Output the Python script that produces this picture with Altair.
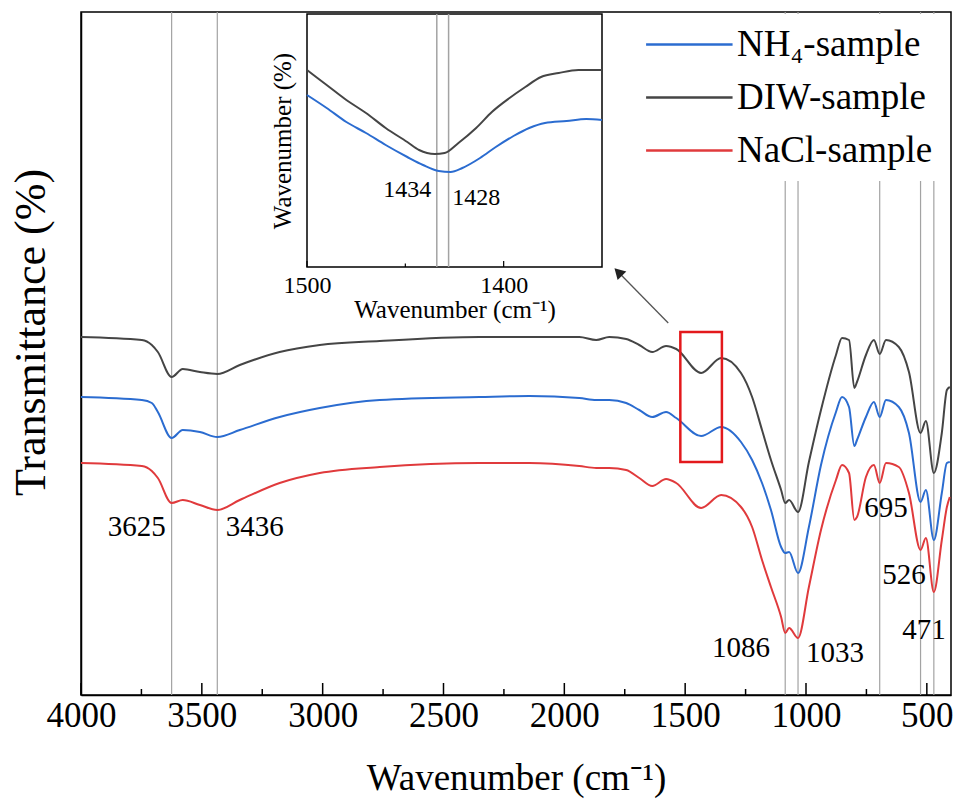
import altair as alt
import pandas as pd

FONT = "Liberation Serif"

# ---------------- main spectra (wavenumber, transmittance in arbitrary offset units)
wavenumber = [4000, 3748, 3707, 3682, 3625, 3579, 3508, 3436, 3343, 3178, 3012, 2764,
              2351, 2145, 1938, 1868, 1814, 1744, 1690, 1636, 1579, 1537,
              1434, 1351, 1269, 1223, 1182, 1145, 1103, 1086, 1070, 1033,
              988, 938, 876, 851, 822, 800, 789, 752, 719, 695,
              669, 616, 574, 526, 504, 471, 438, 417, 405]
diw = [35.8, 35.5, 35.0, 34.3, 31.8, 32.6, 32.3, 32.1, 33.0, 34.3, 35.0, 35.4,
       35.8, 35.8, 35.8, 35.5, 35.8, 35.6, 35.0, 34.3, 34.9, 34.6,
       32.2, 33.7, 32.2, 29.8, 26.5, 23.5, 20.5, 19.2, 19.5, 18.3,
       23.3, 28.5, 34.0, 35.7, 35.5, 30.7, 31.3, 34.0, 35.5, 34.1,
       35.5, 34.8, 32.3, 26.2, 27.4, 22.2, 26.2, 30.5, 30.8]
nh4 = [29.8, 29.5, 29.2, 28.3, 25.7, 26.5, 26.3, 25.8, 26.5, 27.8, 28.7, 29.5,
       29.8, 29.9, 29.7, 29.5, 29.5, 29.2, 28.5, 27.8, 28.3, 27.7,
       25.9, 26.8, 25.3, 23.5, 21.2, 18.5, 14.8, 14.2, 14.3, 12.2,
       16.8, 23.0, 28.3, 29.8, 28.8, 24.9, 25.5, 27.8, 29.3, 27.8,
       29.5, 28.8, 26.2, 19.3, 20.5, 15.5, 20.2, 23.2, 23.3]
nacl = [23.2, 22.9, 22.4, 21.7, 19.2, 19.5, 19.0, 18.5, 19.5, 21.2, 22.2, 22.8,
        23.2, 23.2, 22.9, 22.7, 22.7, 22.5, 21.7, 20.9, 21.6, 21.2,
        18.7, 20.0, 18.8, 16.8, 13.5, 10.8, 7.8, 6.2, 6.7, 5.7,
        10.8, 16.5, 21.5, 23.0, 22.2, 17.5, 17.8, 21.8, 23.0, 21.2,
        23.2, 22.8, 20.2, 14.5, 15.7, 10.3, 15.5, 18.8, 19.8]

series_names = ["NH\u2084-sample", "DIW-sample", "NaCl-sample"]
series_colors = ["#2B6CD0", "#454545", "#E03A3C"]

# peak marker lines and labels
peak_lines = [3625, 3436, 1086, 1033, 695, 526, 471]
peak_text = ["3625", "3436", "1086", "1033", "695", "526", "471"]
peak_text_x = [3769, 3281, 1269, 880, 669, 595, 512]
peak_text_y = [16.8, 16.8, 4.7, 4.2, 18.7, 12.0, 6.5]

major_ticks = [4000, 3500, 3000, 2500, 2000, 1500, 1000, 500]
minor_ticks = [3750, 3250, 2750, 2250, 1750, 1250, 750]
major_tick_len = 1.2   # in y-data units (inward ticks)
minor_tick_len = 0.6

# highlighted region and arrow (main data coordinates)
box_x = [1520]; box_x2 = [1348]; box_y = [23.3]; box_y2 = [36.3]
arrow_tail_x = [1570]; arrow_tail_y = [37.2]
arrow_head_x = [1777]; arrow_head_y = [42.3]

# ---------------- inset (1500-1350 cm-1)
inset_wn_diw = [1500, 1490, 1480, 1470, 1460, 1449, 1443, 1435, 1430, 1423, 1414, 1406,
                1397, 1389, 1381, 1372, 1362, 1350]
inset_diw = [19.7, 18.2, 16.7, 15.4, 13.9, 12.5, 11.7, 11.3, 11.4, 12.4, 13.9, 15.5,
             16.9, 18.0, 19.0, 19.4, 19.7, 19.7]
inset_wn_nh4 = [1500, 1490, 1480, 1470, 1460, 1449, 1441, 1433, 1427, 1421, 1412, 1404,
                1395, 1387, 1379, 1368, 1358, 1350]
inset_nh4 = [17.2, 15.9, 14.5, 13.4, 12.2, 11.0, 10.2, 9.6, 9.5, 9.9, 10.9, 12.0,
             13.1, 13.9, 14.4, 14.6, 14.8, 14.7]
inset_peaks = [1434, 1428]
inset_text = ["1434", "1428"]
inset_text_x = [1449, 1414]
inset_text_y = [7.7, 6.9]
inset_domain_x = [1500, 1350]
inset_domain_y = [0, 25.3]
inset_major_ticks = [1500, 1400]
inset_minor_ticks = [1450]
inset_major_len = 0.6
inset_minor_len = 0.35

# ---------------- data frames
spectra = pd.concat([
    pd.DataFrame({"wn": wavenumber, "T": vals, "sample": name})
    for name, vals in zip(series_names, [nh4, diw, nacl])
])
peaks_df = pd.DataFrame({"wn": peak_lines})
labels_df = pd.DataFrame({"label": peak_text, "x": peak_text_x, "y": peak_text_y})
box_df = pd.DataFrame({"x": box_x, "x2": box_x2, "y": box_y, "y2": box_y2})
arrow_df = pd.DataFrame({"x": arrow_tail_x, "y": arrow_tail_y, "x2": arrow_head_x, "y2": arrow_head_y})
ticks_df = pd.concat([
    pd.DataFrame({"t": major_ticks, "y0": 0.0, "y1": major_tick_len}),
    pd.DataFrame({"t": minor_ticks, "y0": 0.0, "y1": minor_tick_len}),
])

inset_lines_df = pd.concat([
    pd.DataFrame({"wn": inset_wn_diw, "T": inset_diw, "sample": "DIW"}),
    pd.DataFrame({"wn": inset_wn_nh4, "T": inset_nh4, "sample": "NH4"}),
])
inset_peaks_df = pd.DataFrame({"wn": inset_peaks, "y0": inset_domain_y[0], "y1": inset_domain_y[1]})
inset_labels_df = pd.DataFrame({"label": inset_text, "x": inset_text_x, "y": inset_text_y})
inset_frame_df = pd.DataFrame({"x": [inset_domain_x[0]], "x2": [inset_domain_x[1]],
                               "y": [inset_domain_y[0]], "y2": [inset_domain_y[1]]})
inset_ticks_df = pd.concat([
    pd.DataFrame({"t": inset_major_ticks, "y0": 0.0, "y1": inset_major_len}),
    pd.DataFrame({"t": inset_minor_ticks, "y0": 0.0, "y1": inset_minor_len}),
])

# ---------------- main plot
W, H = 870, 683
mx = alt.Scale(domain=[4000, 400], nice=False, zero=False)
my = alt.Scale(domain=[0, 68.3], nice=False, zero=False)

rules = alt.Chart(peaks_df).mark_rule(color="#A3A3A3", strokeWidth=1.2).encode(
    x=alt.X("wn:Q", scale=mx, axis=None)
)

tick_marks = alt.Chart(ticks_df).mark_rule(color="black", strokeWidth=1.5).encode(
    x=alt.X("t:Q", scale=mx, axis=None),
    y=alt.Y("y0:Q", scale=my, axis=None),
    y2="y1:Q",
)

lines = alt.Chart(spectra).mark_line(strokeWidth=2, interpolate="monotone").encode(
    x=alt.X("wn:Q", scale=mx, title="Wavenumber (cm\u207b\u00b9)",
            axis=alt.Axis(orient="bottom", values=major_ticks, format="d", ticks=False,
                          labelFontSize=35, labelPadding=3, labelFlush=False,
                          titleFontSize=37, titlePadding=27, grid=False)),
    y=alt.Y("T:Q", scale=my, title="Transmittance (%)",
            axis=alt.Axis(orient="left", labels=False, ticks=False, grid=False,
                          titleFontSize=44, titlePadding=28, titleY=320)),
    color=alt.Color("sample:N",
                    scale=alt.Scale(domain=series_names, range=series_colors),
                    legend=alt.Legend(title=None, orient="none", legendX=549, legendY=2,
                                      symbolType="M-1,0H5", symbolSize=831,
                                      symbolStrokeWidth=2.5, labelFont=FONT,
                                      labelFontSize=37, labelColor="black",
                                      labelLimit=500, labelOffset=58,
                                      rowPadding=15, padding=12, fillColor="white")),
)

box = alt.Chart(box_df).mark_rect(fill=None, fillOpacity=0, stroke="#E3191C", strokeWidth=2.5).encode(
    x=alt.X("x:Q", scale=mx, axis=None),
    x2="x2:Q",
    y=alt.Y("y:Q", scale=my, axis=None),
    y2="y2:Q",
)

arrow_line = alt.Chart(arrow_df).mark_rule(color="#555555", strokeWidth=1.3).encode(
    x=alt.X("x:Q", scale=mx, axis=None), x2="x2:Q",
    y=alt.Y("y:Q", scale=my, axis=None), y2="y2:Q",
)
arrow_head = alt.Chart(arrow_df).mark_point(shape="triangle-up", angle=315, size=150,
                                            filled=True, color="#222222", opacity=1).encode(
    x=alt.X("x2:Q", scale=mx, axis=None),
    y=alt.Y("y2:Q", scale=my, axis=None),
)

peak_labels = alt.Chart(labels_df).mark_text(font=FONT, fontSize=29, color="black",
                                             align="center", baseline="middle").encode(
    x=alt.X("x:Q", scale=mx, axis=None),
    y=alt.Y("y:Q", scale=my, axis=None),
    text="label:N",
)

main = alt.layer(rules, tick_marks, lines, box, arrow_line,
                 arrow_head, peak_labels).resolve_axis(x="independent", y="independent")

# ---------------- inset
IX0, IX1, IY0, IY1 = 226, 521, 255, 2
ix = alt.Scale(domain=inset_domain_x, range=[IX0, IX1], nice=False, zero=False)
iy = alt.Scale(domain=inset_domain_y, range=[IY0, IY1], nice=False, zero=False)

inset_frame = alt.Chart(inset_frame_df).mark_rect(fill="white", stroke="black", strokeWidth=1.5).encode(
    x=alt.X("x:Q", scale=ix, title="Wavenumber (cm\u207b\u00b9)",
            axis=alt.Axis(orient="bottom", offset=-(H - IY0), values=inset_major_ticks, format="d",
                          ticks=False, domain=False, labelFontSize=24, labelPadding=6,
                          labelFlush=False, titleFontSize=25, titlePadding=0, grid=False,
                          zindex=1)),
    x2="x2:Q",
    y=alt.Y("y:Q", scale=iy, title="Wavenumber (%)",
            axis=alt.Axis(orient="left", offset=-IX0, labels=False, ticks=False,
                          domain=False, grid=False, titleFontSize=25, titlePadding=12, zindex=1)),
    y2="y2:Q",
)

inset_rules = alt.Chart(inset_peaks_df).mark_rule(color="#A3A3A3", strokeWidth=1.5).encode(
    x=alt.X("wn:Q", scale=ix, axis=None),
    y=alt.Y("y0:Q", scale=iy, axis=None), y2="y1:Q",
)

inset_tick_marks = alt.Chart(inset_ticks_df).mark_rule(color="black", strokeWidth=1.2).encode(
    x=alt.X("t:Q", scale=ix, axis=None),
    y=alt.Y("y0:Q", scale=iy, axis=None), y2="y1:Q",
)

inset_lines = alt.Chart(inset_lines_df).mark_line(strokeWidth=2, interpolate="monotone").encode(
    x=alt.X("wn:Q", scale=ix, axis=None),
    y=alt.Y("T:Q", scale=iy, axis=None),
    detail="sample:N",
    color=alt.Color("sample:N", scale=alt.Scale(domain=["NH4", "DIW"],
                                                range=[series_colors[0], series_colors[1]]),
                    legend=None),
)

inset_labels = alt.Chart(inset_labels_df).mark_text(font=FONT, fontSize=24, color="black",
                                                    align="center", baseline="middle").encode(
    x=alt.X("x:Q", scale=ix, axis=None),
    y=alt.Y("y:Q", scale=iy, axis=None),
    text="label:N",
)

inset = alt.layer(inset_frame, inset_rules, inset_tick_marks,
                  inset_lines, inset_labels).resolve_axis(x="independent", y="independent")

chart = alt.layer(main, inset).resolve_scale(
    x="independent", y="independent", color="independent"
).properties(
    width=W, height=H,
    padding={"left": 81, "top": 12, "right": 6, "bottom": 105},
    autosize=alt.AutoSizeParams(type="none"),
    background="white",
).configure_view(
    stroke="black", strokeWidth=1.5
).configure_axis(
    labelFont=FONT, titleFont=FONT, labelColor="black", titleColor="black",
    domainColor="black", domainWidth=1.5, titleFontWeight="normal"
)

chart.save("out.html", embed_options={"renderer": "svg", "actions": False})
